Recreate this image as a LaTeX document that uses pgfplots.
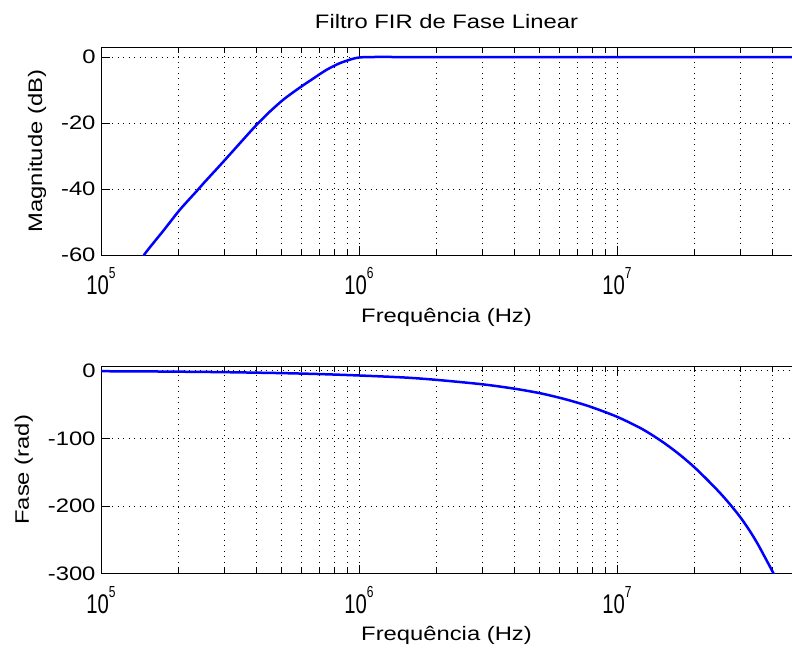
\documentclass[border=0pt]{standalone}
\usepackage{pgfplots}
\pgfplotsset{compat=1.18}
\usepackage{fontspec}
\setmainfont{Liberation Sans}[FakeStretch=1.22]
\newfontfamily\tickfont{Liberation Sans}[FakeStretch=0.75]
\newcommand\xt[1]{{\tickfont\fontsize{27}{27}\selectfont 10\raisebox{0.6em}{\fontsize{16}{16}\selectfont #1}}}
\definecolor{mblue}{RGB}{0,0,255}
\pgfplotsset{
  matlab/.style={
    scale only axis,
    width=691pt, height=207.7pt,
    xmin=1e5, xmax=4.77e7,
    axis y line*=left,
    ytick pos=left,
    xtick={1e5,1e6,1e7},
    xticklabels={\xt{5},\xt{6},\xt{7}},
    minor xtick={2e5,3e5,4e5,5e5,6e5,7e5,8e5,9e5,2e6,3e6,4e6,5e6,6e6,7e6,8e6,9e6,2e7,3e7,4e7},
    xmajorgrids, xminorgrids, ymajorgrids,
    grid style={black, line width=0.9pt, dash pattern=on 0.9pt off 4.6pt},
    minor grid style={black, line width=0.9pt, dash pattern=on 0.9pt off 4.6pt},
    tick align=inside,
    major tick length=9pt,
    minor tick length=5.5pt,
    every tick/.style={black, line width=0.9pt},
    axis line style={black, line width=1pt},
    tick label style={font=\fontsize{19.5}{23}\selectfont, black},
    label style={font=\fontsize{19.5}{23}\selectfont, black},
    xticklabel style={yshift=-9pt},
    yticklabel style={xshift=-2pt},
    xlabel={Frequência (Hz)},
    xlabel style={yshift=-6pt},
    ylabel style={yshift=8pt},
  }
}
\begin{document}
\begin{tikzpicture}
\begin{semilogxaxis}[matlab, name=top, at={(0pt,0pt)}, anchor=north west,
  ymin=-60, ymax=3,
  ytick={-60,-40,-20,0},
  yticklabels={-60,-40,-20,0},
  ylabel={Magnitude (dB)},
  title={Filtro FIR de Fase Linear},
  title style={font=\fontsize{19.5}{23}\selectfont, yshift=9pt},
]
\addplot[mblue, line width=2.5pt, smooth, tension=0.5] coordinates {
(1.40e5,-63.0) (1.48e5,-59.6) (1.75e5,-52.5) (2.02e5,-46.3) (2.35e5,-40.6)
(2.5e5,-38.2) (2.98e5,-31.7) (3.5e5,-25.6) (4.0e5,-20.6) (4.5e5,-16.6)
(5.05e5,-13.1) (5.5e5,-10.9) (6.08e5,-8.5) (6.5e5,-7.0) (7.06e5,-5.1)
(7.5e5,-3.8) (8.07e5,-2.5) (8.5e5,-1.7) (9.1e5,-0.9) (9.5e5,-0.45)
(1.0e6,-0.1) (1.1e6,0.05) (1.5e6,0.05) (2e6,0.0) (5e6,0.0) (1e7,0.0)
(2e7,0.0) (4.77e7,0.0)
};
\end{semilogxaxis}
\begin{semilogxaxis}[matlab, name=bot, at={(0pt,-318.7pt)}, anchor=north west,
  ymin=-300, ymax=7,
  ytick={-300,-200,-100,0},
  yticklabels={-300,-200,-100,0},
  ylabel={Fase (rad)},
]
\addplot[mblue, line width=2.5pt, smooth, tension=0.5] coordinates {
(1e5,-0.7) (1.5e5,-1.0) (2e5,-1.4) (3e5,-2.1) (5e5,-3.5) (7e5,-4.9)
(1e6,-7) (1.5e6,-10) (2e6,-13.5) (3e6,-20) (4e6,-26.5) (5e6,-33)
(6e6,-40) (7e6,-47) (8e6,-54) (1e7,-68) (1.25e7,-86) (1.5e7,-105)
(1.75e7,-124) (2e7,-143) (2.25e7,-162) (2.5e7,-180) (2.75e7,-198)
(3e7,-216) (3.25e7,-235) (3.5e7,-255) (3.75e7,-276) (4.05e7,-300) (4.2e7,-312)
};
\end{semilogxaxis}
\pgfresetboundingbox
\path[use as bounding box] (-101pt,47.3pt) rectangle (691pt,-605.7pt);
\end{tikzpicture}
\end{document}
